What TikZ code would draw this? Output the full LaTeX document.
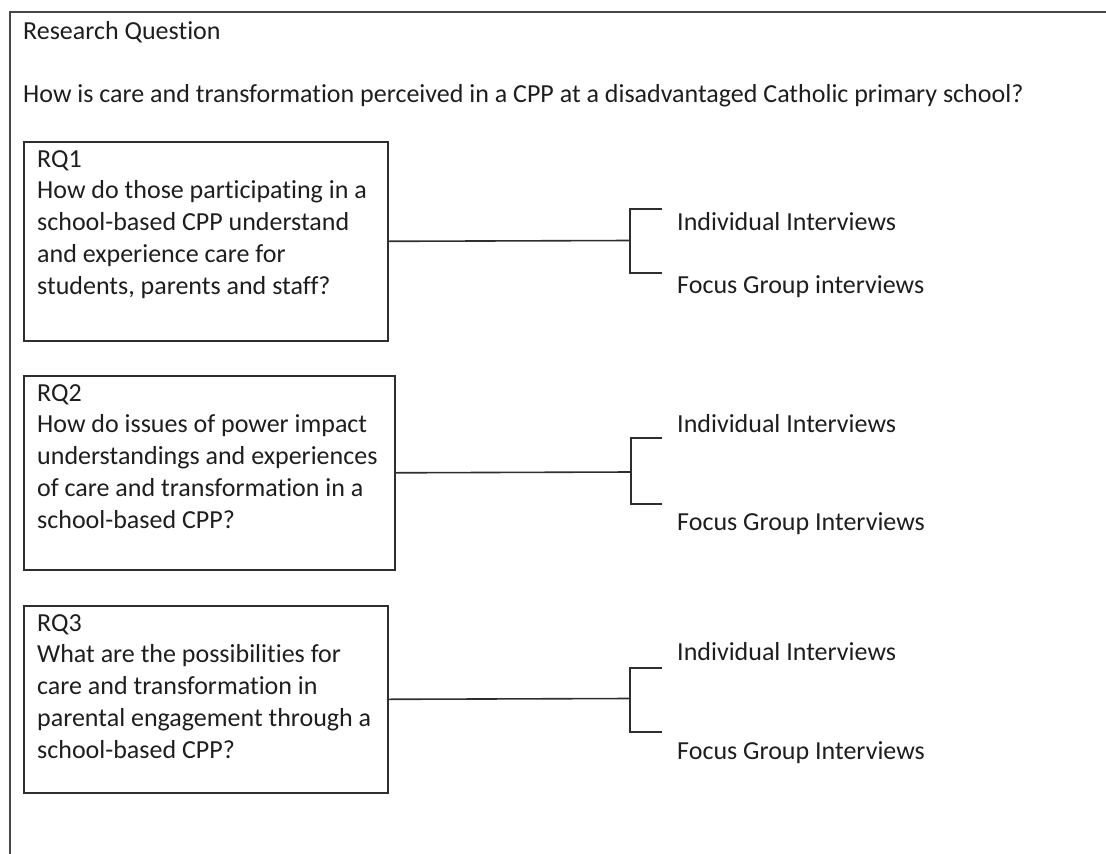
\documentclass[tikz,border=0pt]{standalone}
\usepackage{fontspec}
\setmainfont{Carlito}[Ligatures=NoCommon]
\usetikzlibrary{positioning}
\definecolor{linegray}{HTML}{2E2E2E}
\definecolor{framegray}{HTML}{484848}
\definecolor{textdark}{HTML}{1E1E1E}

\begin{document}
\begin{tikzpicture}[x=1pt, y=-1pt,
    rqbox/.style={draw=linegray, line width=1.6pt, rectangle, inner sep=0pt, anchor=north west},
    rqtext/.style={text=textdark, font=\fontsize{26}{31.8}\selectfont, align=left, anchor=north west, inner sep=0pt},
    method/.style={text=textdark, font=\fontsize{26}{31.8}\selectfont, anchor=base west, inner sep=0pt},
    link/.style={draw=linegray, line width=1.6pt}]
        \useasboundingbox (0,0) rectangle (1106,854);
        % outer frame
        \draw[draw=framegray, line width=2pt] (10,854) -- (10,12) -- (1106,12);

        \node[method] (title) at (23,39) {Research Question};
        \node[method] (mainq) at (23,102) {How is care and transformation perceived in a CPP at a disadvantaged Catholic primary school?};

        % research questions
        \node[rqbox, minimum width=364pt, minimum height=199pt] (rq1) at (23,141) {};
        \node[rqtext, below right=9pt and 14pt of rq1.north west] (rq1txt) {RQ1\\How do those participating in a\\school-based CPP understand\\and experience care for\\students, parents and staff?};

        \node[rqbox, minimum width=371pt, minimum height=194pt] (rq2) at (23,375) {};
        \node[rqtext, below right=9pt and 14pt of rq2.north west] (rq2txt) {RQ2\\How do issues of power impact\\understandings and experiences\\of care and transformation in a\\school-based CPP?};

        \node[rqbox, minimum width=364pt, minimum height=187pt] (rq3) at (23,605) {};
        \node[rqtext, below right=9pt and 14pt of rq3.north west] (rq3txt) {RQ3\\What are the possibilities for\\care and transformation in\\parental engagement through a\\school-based CPP?};

        % methods
        \node[method] (ind1) at (677,230) {Individual Interviews};
        \node[method] (foc1) at (677,293) {Focus Group interviews};
        \node[method] (ind2) at (677,432) {Individual Interviews};
        \node[method] (foc2) at (677,530) {Focus Group Interviews};
        \node[method] (ind3) at (677,660) {Individual Interviews};
        \node[method] (foc3) at (677,759) {Focus Group Interviews};

        % brackets
        \coordinate (j1) at (630,240.5);
        \coordinate (t1a) at (662,209);
        \coordinate (t1b) at (662,273);
        \draw[link] (rq1.east) -- (j1);
        \draw[link] (t1a) -| (j1) |- (t1b);

        \coordinate (j2) at (631,472);
        \coordinate (t2a) at (662,438);
        \coordinate (t2b) at (662,504);
        \draw[link] (rq2.east) -- (j2);
        \draw[link] (t2a) -| (j2) |- (t2b);

        \coordinate (j3) at (630,698.5);
        \coordinate (t3a) at (662,668);
        \coordinate (t3b) at (662,732);
        \draw[link] (rq3.east) -- (j3);
        \draw[link] (t3a) -| (j3) |- (t3b);
\end{tikzpicture}
\end{document}
